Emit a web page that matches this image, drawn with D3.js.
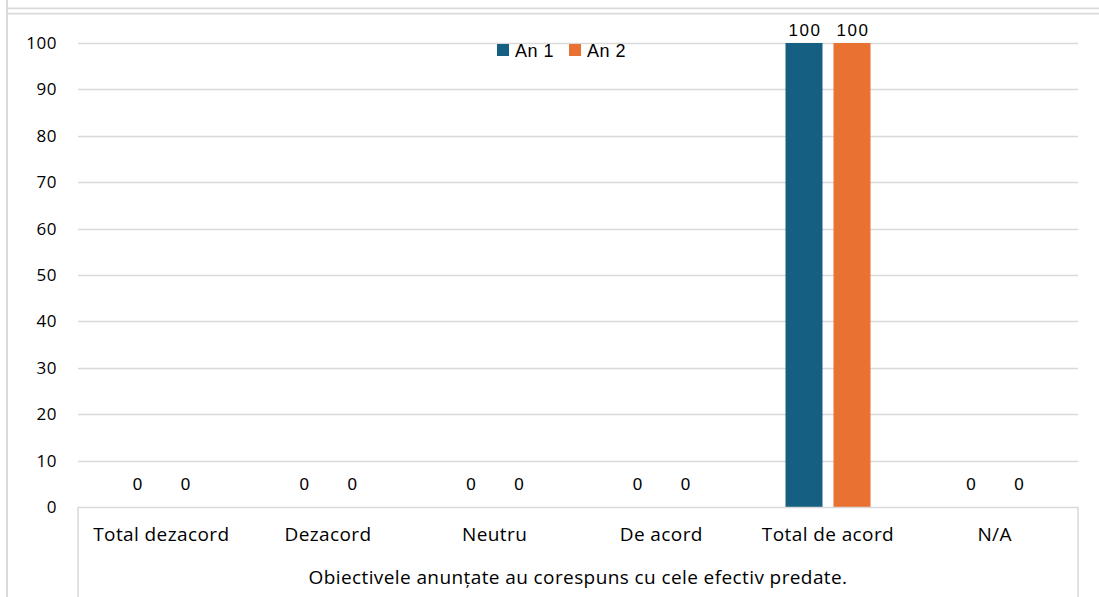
<!DOCTYPE html>
<html><head><meta charset="utf-8">
<script src="https://cdn.jsdelivr.net/npm/d3@7"></script>
<style>body{margin:0;background:#fff;}svg{display:block;}</style>
</head><body>
<script>
const categories = ["Total dezacord","Dezacord","Neutru","De acord","Total de acord","N/A"];
const series = ["An 1","An 2"];
const an1 = [0,0,0,0,100,0];
const an2 = [0,0,0,0,100,0];
const yTicks = [0,10,20,30,40,50,60,70,80,90,100];
const axisTitle = "Obiectivele anunțate au corespuns cu cele efectiv predate.";
const colors = ["#156082","#E97132"];

(function(){
const W=1099,H=597;
const svg=d3.select("body").append("svg").attr("width",W).attr("height",H);
const pL=78,pR=1078,pT=43,pB=507;
const grid="#d9d9d9";

// outer frame
svg.append("line").attr("x1",7).attr("x2",7).attr("y1",0).attr("y2",H).attr("stroke",grid).attr("stroke-width",2);
svg.append("line").attr("x1",7).attr("x2",W).attr("y1",8.5).attr("y2",8.5).attr("stroke",grid).attr("stroke-width",2);
svg.append("line").attr("x1",7).attr("x2",W).attr("y1",13.5).attr("y2",13.5).attr("stroke",grid).attr("stroke-width",2);
svg.append("rect").attr("x",8).attr("y",9.5).attr("width",W).attr("height",3).attr("fill","#fff");

const y=d3.scaleLinear().domain([0,100]).range([pB,pT]);
const x0=d3.scaleBand().domain(categories).range([pL,pR]);
const x1=d3.scaleBand().domain(series).range([0,85]).paddingInner(11/48).paddingOuter(0);
const off=(x0.bandwidth()-85)/2;

// gridlines
svg.append("g").selectAll("line").data(yTicks.filter(d=>d>0)).join("line")
 .attr("x1",pL).attr("x2",pR).attr("y1",d=>Math.round(y(d))+0.5).attr("y2",d=>Math.round(y(d))+0.5)
 .attr("stroke",grid).attr("stroke-width",1.5);

// y labels
svg.append("g").selectAll("text").data(yTicks).join("text")
 .attr("x",57).attr("y",d=>y(d)+6).attr("text-anchor","end")
 .attr("font-family","Open Sans, sans-serif").attr("font-size",17).attr("letter-spacing",0.5).attr("fill","#000").text(d=>d);

// bars
const data=categories.map((c,i)=>({c,vals:[an1[i],an2[i]]}));
const g=svg.append("g").selectAll("g").data(data).join("g").attr("transform",d=>`translate(${x0(d.c)+off},0)`);
g.selectAll("rect").data(d=>d.vals.map((v,j)=>({s:series[j],v,j}))).join("rect")
 .attr("x",d=>x1(d.s)).attr("width",x1.bandwidth())
 .attr("y",d=>y(d.v)).attr("height",d=>pB-y(d.v)).attr("fill",d=>colors[d.j]);
g.selectAll("text").data(d=>d.vals.map((v,j)=>({s:series[j],v,j}))).join("text")
 .attr("x",d=>x1(d.s)+x1.bandwidth()/2+1).attr("y",d=>Math.min(y(d.v)-7,pB-17)).attr("text-anchor","middle")
 .attr("font-family","Liberation Sans, Arial, sans-serif").attr("font-size",17).attr("letter-spacing",1.5).attr("fill","#000").text(d=>d.v);

// x axis line and box
svg.append("line").attr("x1",pL).attr("x2",pR).attr("y1",pB+0.5).attr("y2",pB+0.5).attr("stroke",grid).attr("stroke-width",1.5);
svg.append("line").attr("x1",pL).attr("x2",pL).attr("y1",pB).attr("y2",H).attr("stroke",grid).attr("stroke-width",1.5);
svg.append("line").attr("x1",pR).attr("x2",pR).attr("y1",pB).attr("y2",H).attr("stroke",grid).attr("stroke-width",1.5);

svg.append("g").selectAll("text").data(categories).join("text")
 .attr("x",d=>x0(d)+x0.bandwidth()/2).attr("y",541).attr("text-anchor","middle")
 .attr("font-family","Open Sans, sans-serif").attr("font-size",19).attr("letter-spacing",0.4).attr("fill","#000").text(d=>d);

svg.append("text").attr("x",(pL+pR)/2).attr("y",584).attr("text-anchor","middle")
 .attr("font-family","Open Sans, sans-serif").attr("font-size",19).attr("letter-spacing",0.4).attr("fill","#000").text(axisTitle);

// legend
const lg=svg.append("g").selectAll("g").data(series).join("g").attr("transform",(d,i)=>`translate(${497+i*72},44)`);
lg.append("rect").attr("width",12).attr("height",12).attr("fill",(d,i)=>colors[i]);
lg.append("text").attr("x",18).attr("y",13).attr("font-family","Liberation Sans, Arial, sans-serif").attr("font-size",18).attr("letter-spacing",0.5).attr("fill","#000").text(d=>d);
})();
</script>
</body></html>
